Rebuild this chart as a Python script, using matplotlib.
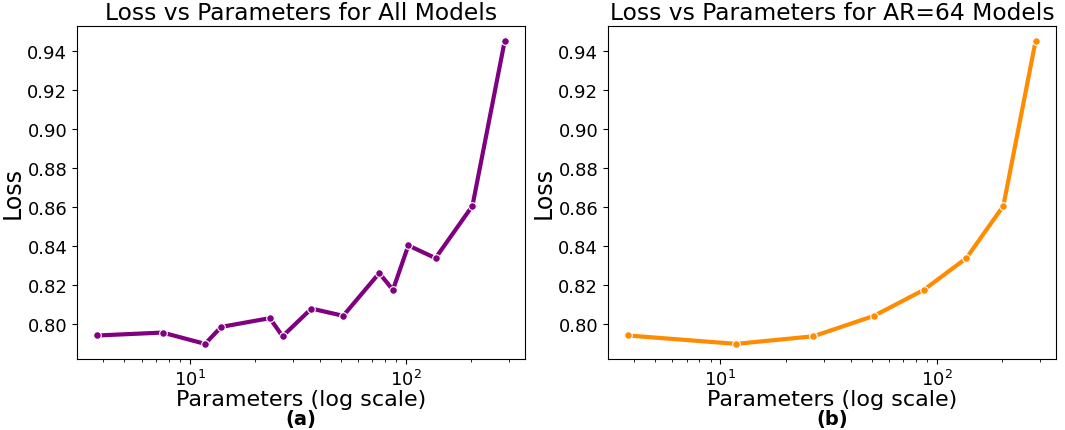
import matplotlib
matplotlib.use("Agg")
import matplotlib.pyplot as plt

# all models
params_all = [3.75, 7.5, 11.8, 14.0, 23.5, 26.9, 36.6, 51.3, 75.3, 87.1, 102.6, 137, 203, 286]
loss_all = [0.7942, 0.7957, 0.7899, 0.7986, 0.8031, 0.7938, 0.8080, 0.8043,
            0.8262, 0.8176, 0.8404, 0.8339, 0.8607, 0.9452]

# AR=64 models
params_ar64 = [3.75, 11.8, 26.9, 51.3, 87.1, 137, 203, 286]
loss_ar64 = [0.7942, 0.7899, 0.7938, 0.8043, 0.8176, 0.8339, 0.8607, 0.9452]

titles = ['Loss vs Parameters for All Models', 'Loss vs Parameters for AR=64 Models']
colors = ['purple', 'darkorange']
tags = ['(a)', '(b)']


def draw_panel(ax, x, y, color, title, tag):
    ax.plot(x, y, color=color, linewidth=3, marker='o', markersize=5.5,
            markeredgecolor='white', markeredgewidth=0.8)
    ax.set_xscale('log')
    ax.set_title(title, fontsize=16.8, pad=5)
    ax.set_xlabel('Parameters (log scale)', fontsize=16, labelpad=0)
    ax.set_ylabel('Loss', fontsize=17, labelpad=2)
    ax.tick_params(axis='both', which='major', labelsize=13)
    ax.text(0.5, -0.18, tag, transform=ax.transAxes, ha='center', va='center',
            fontsize=14, fontweight='bold')


fig, axes = plt.subplots(1, 2, figsize=(10.65, 4.31), dpi=100)
fig.subplots_adjust(left=0.0723, right=0.9915, bottom=0.1647, top=0.9374, wspace=0.185)

draw_panel(axes[0], params_all, loss_all, colors[0], titles[0], tags[0])
draw_panel(axes[1], params_ar64, loss_ar64, colors[1], titles[1], tags[1])

fig.savefig('out.png', dpi=100)
plt.close(fig)
